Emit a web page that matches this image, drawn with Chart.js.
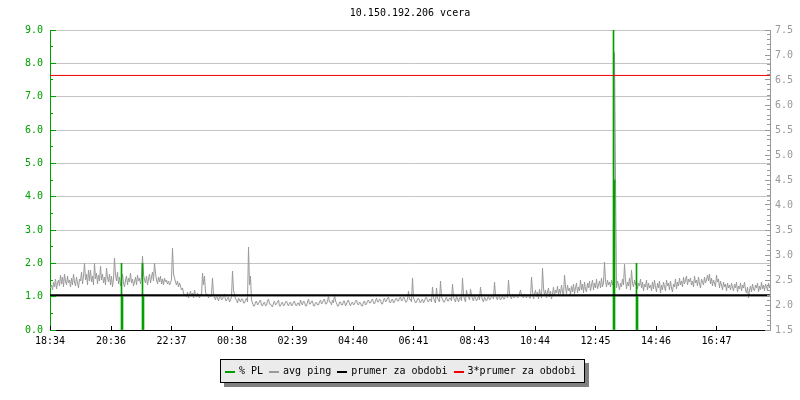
<!DOCTYPE html>
<html><head><meta charset="utf-8">
<script src="https://cdn.jsdelivr.net/npm/chart.js@4.4.1/dist/chart.umd.min.js"></script>
<style>html,body{margin:0;padding:0;background:#fff;}#wrap{width:800px;height:400px;}</style>
</head><body><div id="wrap"><canvas id="c" width="800" height="400"></canvas></div>
<script>
// ---- data ----
const titleText = '10.150.192.206 vcera';
const startTime = '18:34';
const periodMinutes = 1440;
const xTickLabels = ['18:34','20:36','22:37','00:38','02:39','04:40','06:41','08:43','10:44','12:45','14:46','16:47'];
const leftTickValues = [0,1,2,3,4,5,6,7,8,9];
const rightTickValues = [1.5,2.0,2.5,3.0,3.5,4.0,4.5,5.0,5.5,6.0,6.5,7.0,7.5];
const seriesLabels = ['% PL','avg ping','prumer za obdobi','3*prumer za obdobi'];
const plMinutes = [143,145,185,187,1127,1129,1173,1175];
const plValues  = [2.0,1.0,2.0,1.0,9.0,4.5,2.0,1.0];
const pingStepMinutes = 2;
const avgPing = [
2.34,2.40,2.30,2.46,2.36,2.52,2.32,2.44,2.50,2.38,2.60,2.42,2.56,2.36,2.62,2.48,2.40,2.58,2.44,2.50,2.36,2.54,2.40,2.62,2.46,2.38,2.56,2.44,2.34,2.52,2.48,2.66,2.42,2.58,2.84,2.50,2.62,2.40,2.70,2.48,
2.70,2.46,2.58,2.40,2.84,2.52,2.64,2.42,2.60,2.48,2.78,2.50,2.62,2.44,2.56,2.40,2.74,2.54,2.46,2.62,2.40,2.58,2.36,2.52,2.94,2.60,2.48,2.66,2.42,2.56,2.38,2.52,2.62,2.44,2.36,2.50,2.58,2.40,2.54,2.46,
2.64,2.44,2.52,2.38,2.46,2.56,2.40,2.60,2.48,2.54,2.42,2.58,2.98,2.62,2.50,2.44,2.58,2.40,2.52,2.62,2.44,2.56,2.66,2.48,2.84,2.64,2.50,2.42,2.56,2.46,2.58,2.42,2.52,2.40,2.54,2.46,2.50,2.42,2.48,2.40,
2.44,2.52,3.14,2.62,2.54,2.46,2.40,2.48,2.36,2.44,2.38,2.30,2.34,2.24,2.18,2.22,2.16,2.26,2.14,2.20,2.28,2.18,2.24,2.14,2.30,2.20,2.16,2.24,2.20,2.14,2.22,2.18,2.64,2.40,2.58,2.26,2.18,2.22,2.14,2.20,
2.16,2.22,2.54,2.20,2.14,2.10,2.20,2.14,2.08,2.16,2.18,2.10,2.12,2.18,2.22,2.10,2.08,2.14,2.16,2.06,2.10,2.16,2.68,2.30,2.20,2.12,2.10,2.04,2.14,2.10,2.06,2.12,2.12,2.04,2.04,2.10,2.14,2.06,3.16,2.40,
2.58,2.10,2.04,1.98,1.98,2.06,2.08,2.00,2.02,2.08,2.10,2.00,1.98,2.04,2.06,1.98,2.00,2.08,2.12,2.02,2.02,1.98,1.96,2.04,2.08,2.00,2.02,2.06,2.10,1.98,1.98,2.04,2.06,1.98,2.00,2.06,2.08,2.02,1.98,2.04,
2.06,1.98,2.00,2.06,2.08,2.00,1.98,2.04,2.04,1.98,2.10,2.04,2.00,2.08,2.06,1.98,1.98,2.06,2.12,2.02,2.02,2.08,2.08,1.98,1.98,2.04,2.06,2.00,2.00,2.06,2.10,2.02,2.04,2.10,2.12,2.02,2.02,2.08,2.18,2.06,
2.06,2.00,2.10,2.04,2.22,2.08,2.04,1.98,1.98,2.06,2.06,2.00,2.00,2.08,2.08,1.98,2.02,2.08,2.10,2.02,1.98,2.04,2.06,2.00,2.02,2.08,2.10,2.02,2.00,2.06,2.04,1.98,1.98,2.06,2.08,2.00,2.02,2.08,2.10,2.04,
2.04,2.10,2.12,2.04,2.02,2.08,2.14,2.06,2.06,2.12,2.10,2.02,2.02,2.10,2.14,2.06,2.08,2.14,2.16,2.06,2.04,2.10,2.12,2.04,2.06,2.12,2.14,2.08,2.08,2.14,2.16,2.08,2.10,2.16,2.14,2.06,2.06,2.12,2.28,2.10,
2.12,2.06,2.54,2.14,2.10,2.04,2.06,2.12,2.14,2.08,2.04,2.10,2.12,2.04,2.08,2.14,2.16,2.08,2.06,2.12,2.12,2.06,2.36,2.16,2.08,2.04,2.34,2.14,2.10,2.06,2.48,2.16,2.12,2.06,2.06,2.12,2.16,2.08,2.08,2.14,
2.14,2.08,2.42,2.16,2.10,2.06,2.18,2.12,2.06,2.14,2.16,2.08,2.54,2.20,2.12,2.06,2.30,2.18,2.16,2.10,2.32,2.20,2.12,2.08,2.20,2.14,2.08,2.12,2.18,2.10,2.36,2.18,2.10,2.06,2.16,2.12,2.08,2.14,2.18,2.10,
2.12,2.18,2.20,2.12,2.46,2.20,2.14,2.10,2.22,2.16,2.10,2.14,2.18,2.12,2.12,2.20,2.20,2.14,2.50,2.22,2.16,2.12,2.22,2.16,2.14,2.20,2.20,2.14,2.16,2.22,2.30,2.18,2.18,2.14,2.22,2.18,2.14,2.20,2.20,2.14,
2.14,2.56,2.28,2.12,2.22,2.30,2.16,2.26,2.12,2.32,2.20,2.14,2.74,2.34,2.18,2.30,2.14,2.26,2.34,2.16,2.28,2.12,2.22,2.36,2.18,2.30,2.24,2.38,2.20,2.32,2.22,2.40,2.26,2.18,2.60,2.36,2.22,2.40,2.28,2.34,
2.20,2.38,2.26,2.42,2.22,2.34,2.44,2.24,2.36,2.28,2.50,2.30,2.42,2.24,2.46,2.32,2.26,2.44,2.34,2.48,2.28,2.40,2.50,2.30,2.44,2.34,2.52,2.32,2.40,2.48,2.34,2.54,2.36,2.44,2.86,2.48,2.36,2.50,2.40,2.46,
2.36,2.50,2.40,2.46,7.05,4.50,2.34,2.48,2.40,2.30,2.44,2.36,2.52,2.40,2.82,2.50,2.32,2.46,2.38,2.54,2.30,2.70,2.44,2.36,2.50,2.40,2.48,2.32,2.44,2.38,2.52,2.34,2.46,2.28,2.42,2.36,2.50,2.30,2.44,2.34,
2.40,2.28,2.46,2.32,2.50,2.36,2.26,2.44,2.34,2.48,2.24,2.40,2.30,2.46,2.36,2.28,2.50,2.38,2.44,2.30,2.48,2.34,2.26,2.42,2.36,2.52,2.32,2.46,2.38,2.54,2.40,2.48,2.36,2.56,2.42,2.50,2.58,2.40,2.52,2.46,
2.54,2.40,2.48,2.36,2.58,2.44,2.50,2.38,2.56,2.42,2.34,2.52,2.46,2.40,2.56,2.44,2.50,2.60,2.48,2.62,2.42,2.54,2.38,2.50,2.44,2.36,2.60,2.46,2.52,2.34,2.48,2.40,2.30,2.46,2.36,2.42,2.28,2.44,2.34,2.40,
2.30,2.44,2.36,2.28,2.42,2.34,2.46,2.26,2.38,2.32,2.44,2.28,2.40,2.34,2.46,2.30,2.24,2.36,2.14,2.30,2.38,2.26,2.42,2.32,2.28,2.40,2.34,2.44,2.26,2.38,2.30,2.46,2.32,2.40,2.28,2.42,2.36,2.30,2.44,2.34,
2.36];
const meanPing = 2.197;

// ---- style ----
const FONT = '"DejaVu Sans Mono", "Liberation Mono", monospace';
const cPL = '#00a000', cPing = '#999999', cMean = '#000000', cMean3 = '#ee0000';
const cGrid = '#c4c4c4', cRight = '#999999';

function toMin(t){ const [h,m]=t.split(':').map(Number); return h*60+m; }
const xTickMinutes = xTickLabels.map(l => ((toMin(l) - toMin(startTime)) % 1440 + 1440) % 1440);

const decor = {
  id: 'decor',
  afterDraw(chart) {
    const {ctx, chartArea: ca, scales} = chart;
    const x = scales.x, yL = scales.yL, yR = scales.yR;
    const al = p => Math.round(p - 0.5) + 0.5;
    ctx.save();
    ctx.font = '10px ' + FONT;
    ctx.fillStyle = '#000';
    ctx.textAlign = 'center'; ctx.textBaseline = 'middle';
    ctx.fillText(titleText, (ca.left + ca.right) / 2, 13);
    ctx.lineWidth = 1;
    ctx.strokeStyle = cPL; ctx.beginPath();
    for (let k = 0; k <= 18; k++) {
      const v = yL.min + k * 0.5; const py = al(yL.getPixelForValue(v));
      const len = (k % 2 === 0) ? 6 : 3;
      ctx.moveTo(ca.left, py); ctx.lineTo(ca.left + len, py);
    }
    ctx.stroke();
    ctx.strokeStyle = cRight; ctx.beginPath();
    for (let k = 0; k <= 60; k++) {
      const v = yR.min + k * 0.1; const py = al(yR.getPixelForValue(v));
      const len = (k % 5 === 0) ? 5 : 3;
      ctx.moveTo(ca.right, py); ctx.lineTo(ca.right - len, py);
    }
    ctx.stroke();
    ctx.strokeStyle = '#000'; ctx.beginPath();
    xTickMinutes.forEach(m => { const px = al(x.getPixelForValue(m)); ctx.moveTo(px, ca.bottom); ctx.lineTo(px, ca.bottom - 4); });
    ctx.stroke();
    const ds = chart.data.datasets;
    const sw = 10, g1 = 4, g2 = 6;
    const widths = ds.map(d => sw + g1 + ctx.measureText(d.label).width);
    const total = widths.reduce((a, b) => a + b, 0) + g2 * (ds.length - 1);
    let sx = Math.round(400 - total / 2);
    const bx = sx - 5, by = 359, bw = Math.round(total + 14), bh = 24;
    ctx.fillStyle = '#808080'; ctx.fillRect(bx + 4, by + 4, bw, bh);
    ctx.fillStyle = '#ebebeb'; ctx.fillRect(bx, by, bw, bh);
    ctx.strokeStyle = '#000'; ctx.strokeRect(bx + 0.5, by + 0.5, bw - 1, bh - 1);
    ctx.textAlign = 'left'; ctx.textBaseline = 'alphabetic';
    ds.forEach((d, i) => {
      ctx.fillStyle = d.borderColor; ctx.fillRect(Math.round(sx), 371, sw, 2);
      ctx.fillStyle = '#000'; ctx.fillText(d.label, sx + sw + g1, 374);
      sx += widths[i] + g2;
    });
    ctx.restore();
  }
};

new Chart(document.getElementById('c'), {
  type: 'line',
  data: {
    datasets: [
      { type: 'bar', label: seriesLabels[0], xAxisID: 'x', yAxisID: 'yL',
        data: plMinutes.map((m, i) => ({x: m, y: plValues[i]})),
        backgroundColor: cPL, borderColor: cPL, borderWidth: 0, barThickness: 1, order: 3 },
      { label: seriesLabels[1], xAxisID: 'x', yAxisID: 'yR',
        data: avgPing.map((v, i) => ({x: i * pingStepMinutes + pingStepMinutes / 2, y: v})),
        borderColor: cPing, borderWidth: 1, pointRadius: 0, tension: 0, fill: false, order: 4 },
      { label: seriesLabels[2], xAxisID: 'x', yAxisID: 'yR',
        data: [{x: 0, y: meanPing}, {x: periodMinutes, y: meanPing}],
        borderColor: cMean, borderWidth: 2, pointRadius: 0, fill: false, order: 2 },
      { label: seriesLabels[3], xAxisID: 'x', yAxisID: 'yR',
        data: [{x: 0, y: 3 * meanPing}, {x: periodMinutes, y: 3 * meanPing}],
        borderColor: cMean3, borderWidth: 1, pointRadius: 0, fill: false, order: 1 }
    ]
  },
  options: {
    responsive: false, animation: false, events: [],
    layout: { padding: { top: 30, left: 0, right: 0, bottom: 0 } },
    font: { family: FONT, size: 10 },
    plugins: { legend: { display: false }, tooltip: { enabled: false }, title: { display: false } },
    scales: {
      x: { type: 'linear', min: 0, max: periodMinutes, offset: false,
        afterBuildTicks: s => { s.ticks = xTickMinutes.map(v => ({value: v})); },
        afterFit: s => { s.height = 70; },
        ticks: { autoSkip: false, maxRotation: 0, minRotation: 0, color: '#000', padding: 5,
                 font: { family: FONT, size: 10 }, callback: (v, i) => xTickLabels[i] },
        grid: { display: false, drawTicks: false, offset: false },
        border: { display: true, color: '#000', width: 1 } },
      yL: { type: 'linear', position: 'left', min: 0, max: 9,
        afterBuildTicks: s => { s.ticks = leftTickValues.map(v => ({value: v})); },
        afterFit: s => { s.width = 50; },
        ticks: { color: cPL, padding: 7, font: { family: FONT, size: 10 }, callback: v => v.toFixed(1) },
        grid: { color: cGrid, lineWidth: 1, drawTicks: false },
        border: { display: true, color: cPL, width: 1 } },
      yR: { type: 'linear', position: 'right', min: 1.5, max: 7.5,
        afterBuildTicks: s => { s.ticks = rightTickValues.map(v => ({value: v})); },
        afterFit: s => { s.width = 30; },
        ticks: { color: cRight, padding: 5, font: { family: FONT, size: 10 }, callback: v => v.toFixed(1) },
        grid: { display: false, drawTicks: false },
        border: { display: true, color: cRight, width: 1 } }
    }
  },
  plugins: [decor]
});
</script></body></html>
